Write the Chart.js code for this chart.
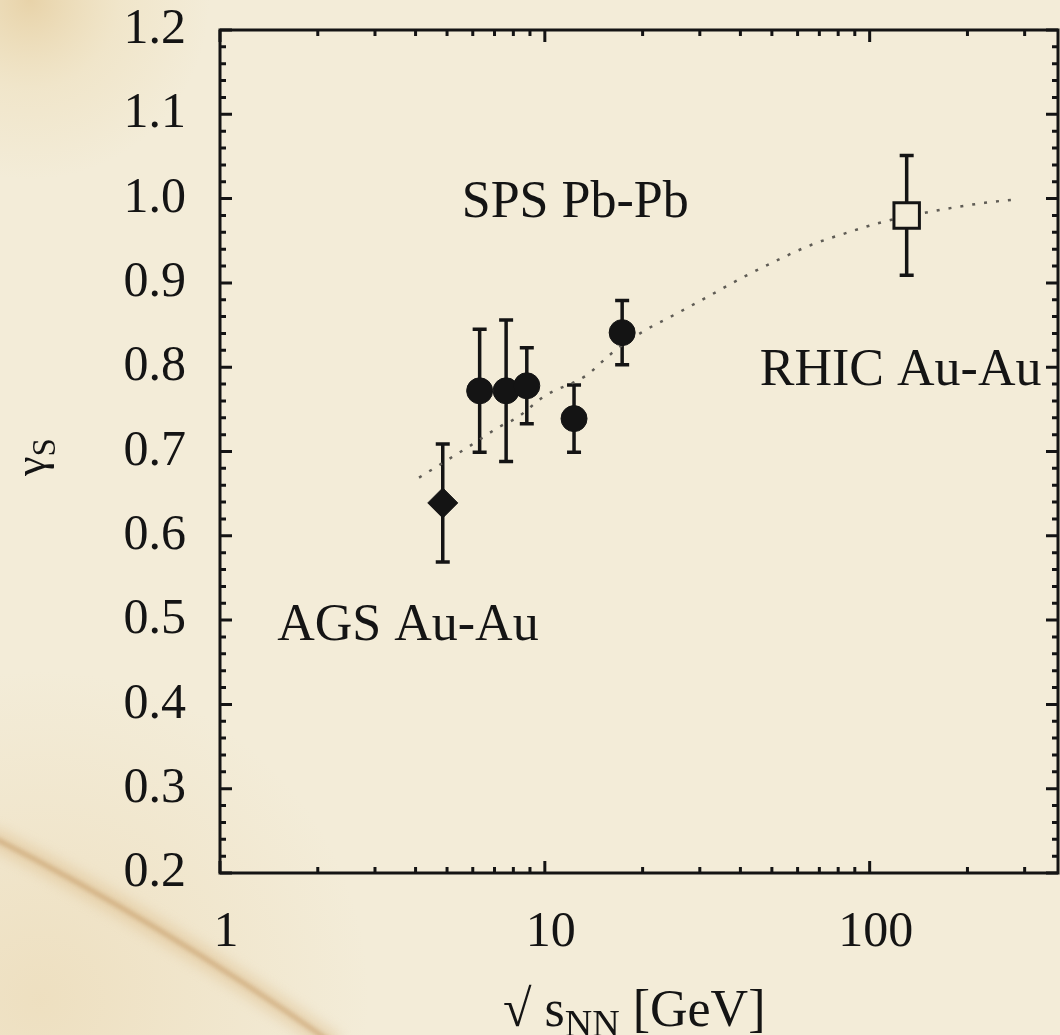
<!DOCTYPE html>
<html>
<head>
<meta charset="utf-8">
<script src="https://cdn.jsdelivr.net/npm/chart.js@4.4.1/dist/chart.umd.min.js"></script>
<style>
  html, body { margin: 0; padding: 0; background: #f3ecd8; }
  #wrap { width: 1060px; height: 1035px; }
</style>
</head>
<body>
<div id="wrap"><canvas id="gammaS" width="1060" height="1035"></canvas></div>
<script>
// strangeness saturation factor vs collision energy
const agsX = [4.85];
const agsY = [0.639];
const agsErr = [0.07];

const spsX = [6.3, 7.6, 8.8, 12.3, 17.3];
const spsY = [0.772, 0.772, 0.778, 0.739, 0.841];
const spsErr = [0.073, 0.084, 0.045, 0.04, 0.038];

const rhicX = [130];
const rhicY = [0.98];
const rhicErr = [0.071];

// dotted trend curve
const curveX = [4.1, 4.6, 5.9, 7.3, 8.2, 10, 13.4, 16, 20, 25, 31.5, 40, 52, 66, 86, 109, 167, 226, 280];
const curveY = [0.669, 0.681, 0.707, 0.73, 0.74, 0.766, 0.79, 0.816, 0.842, 0.862, 0.883, 0.905, 0.927, 0.945, 0.96, 0.972, 0.987, 0.995, 0.999];

const xTickValues = [1, 10, 100];
const yTickValues = [0.2, 0.3, 0.4, 0.5, 0.6, 0.7, 0.8, 0.9, 1.0, 1.1, 1.2];

const PAPER = '#f3ecd8';
const INK = '#141414';
const SERIF = '"Liberation Serif", "Times New Roman", serif';

const pts = (xs, ys) => xs.map((x, i) => ({ x: x, y: ys[i] }));

// paper background with stains
const paper = {
  id: 'paper',
  beforeDraw(chart) {
    const { ctx, width, height } = chart;
    ctx.save();
    ctx.fillStyle = PAPER;
    ctx.fillRect(0, 0, width, height);

    let g = ctx.createRadialGradient(30, 0, 0, 30, 0, 180);
    g.addColorStop(0, 'rgba(218,180,112,0.45)');
    g.addColorStop(0.5, 'rgba(228,200,140,0.18)');
    g.addColorStop(1, 'rgba(228,200,140,0)');
    ctx.fillStyle = g;
    ctx.fillRect(0, 0, width, height);

    g = ctx.createRadialGradient(40, 1000, 0, 40, 1000, 330);
    g.addColorStop(0, 'rgba(228,200,148,0.35)');
    g.addColorStop(1, 'rgba(228,200,148,0)');
    ctx.fillStyle = g;
    ctx.fillRect(0, 0, width, height);

    // crease
    ctx.beginPath();
    ctx.moveTo(-10, 836);
    ctx.quadraticCurveTo(160, 922, 335, 1045);
    ctx.filter = 'blur(6px)';
    ctx.strokeStyle = 'rgba(215,175,115,0.32)';
    ctx.lineWidth = 22;
    ctx.stroke();
    ctx.filter = 'blur(2px)';
    ctx.strokeStyle = 'rgba(180,128,70,0.4)';
    ctx.lineWidth = 5;
    ctx.stroke();
    ctx.restore();
  }
};

// vertical error bars with caps
const errorBars = {
  id: 'errorBars',
  beforeDatasetsDraw(chart) {
    const { ctx, scales: { x, y } } = chart;
    ctx.save();
    ctx.strokeStyle = INK;
    ctx.lineWidth = 3.5;
    chart.data.datasets.forEach(ds => {
      if (!ds.err) return;
      ds.data.forEach((p, i) => {
        const px = x.getPixelForValue(p.x);
        const top = y.getPixelForValue(p.y + ds.err[i]);
        const bot = y.getPixelForValue(p.y - ds.err[i]);
        ctx.beginPath();
        ctx.moveTo(px, top); ctx.lineTo(px, bot);
        ctx.moveTo(px - 7, top); ctx.lineTo(px + 7, top);
        ctx.moveTo(px - 7, bot); ctx.lineTo(px + 7, bot);
        ctx.stroke();
      });
    });
    ctx.restore();
  }
};

// box frame with inward ticks, labels and axis titles
const frame = {
  id: 'frame',
  afterDraw(chart) {
    const { ctx, chartArea: a, scales: { x, y } } = chart;
    ctx.save();
    ctx.strokeStyle = INK;
    ctx.lineWidth = 3;
    ctx.strokeRect(a.left, a.top, a.right - a.left, a.bottom - a.top);

    ctx.beginPath();
    for (let i = 10; i <= 60; i++) {
      const py = y.getPixelForValue(i / 50);
      const len = i % 5 === 0 ? 12 : 6;
      ctx.moveTo(a.left, py); ctx.lineTo(a.left + len, py);
      ctx.moveTo(a.right, py); ctx.lineTo(a.right - len, py);
    }
    for (let d = 1; d <= 100; d *= 10) {
      for (let m = 1; m <= 9; m++) {
        const v = m * d;
        if (v > x.max) break;
        const px = x.getPixelForValue(v);
        const len = m === 1 ? 12 : 6;
        ctx.moveTo(px, a.bottom); ctx.lineTo(px, a.bottom - len);
        ctx.moveTo(px, a.top); ctx.lineTo(px, a.top + len);
      }
    }
    ctx.stroke();

    // region labels
    ctx.fillStyle = INK;
    ctx.font = '52px ' + SERIF;
    ctx.textBaseline = 'alphabetic';
    ctx.textAlign = 'left';
    ctx.fillText('SPS Pb-Pb', x.getPixelForValue(5.55), y.getPixelForValue(0.978));
    ctx.fillText('AGS Au-Au', x.getPixelForValue(1.5), y.getPixelForValue(0.476));
    ctx.fillText('RHIC Au-Au', x.getPixelForValue(45.9), y.getPixelForValue(0.779));

    // x title: sqrt(s_NN) [GeV]
    let cx = 503;
    const by = 1026;
    ctx.font = '52px ' + SERIF;
    ctx.fillText('\u221A s', cx, by);
    cx += ctx.measureText('\u221A s').width;
    ctx.font = '38px ' + SERIF;
    ctx.fillText('NN', cx, by + 10);
    cx += ctx.measureText('NN').width;
    ctx.font = '52px ' + SERIF;
    ctx.fillText(' [GeV]', cx, by);

    // y title: gamma_S
    ctx.translate(45, 476);
    ctx.rotate(-Math.PI / 2);
    ctx.font = '44px ' + SERIF;
    ctx.fillText('\u03B3', 0, 0);
    const gw = ctx.measureText('\u03B3').width;
    ctx.font = '33px ' + SERIF;
    ctx.fillText('S', gw, 10);
    ctx.restore();
  }
};

new Chart(document.getElementById('gammaS'), {
  type: 'scatter',
  data: {
    datasets: [
      {
        label: 'trend',
        type: 'line',
        data: pts(curveX, curveY),
        borderColor: '#5f5c55',
        borderWidth: 2.5,
        borderDash: [3, 9],
        pointRadius: 0,
        cubicInterpolationMode: 'monotone',
        fill: false,
        order: 3
      },
      {
        label: 'AGS Au-Au',
        data: pts(agsX, agsY),
        err: agsErr,
        pointStyle: 'rectRot',
        pointRadius: 15,
        backgroundColor: INK,
        borderColor: INK,
        borderWidth: 1,
        order: 1
      },
      {
        label: 'SPS Pb-Pb',
        data: pts(spsX, spsY),
        err: spsErr,
        pointStyle: 'circle',
        pointRadius: 13,
        backgroundColor: INK,
        borderColor: INK,
        borderWidth: 1,
        order: 1
      },
      {
        label: 'RHIC Au-Au',
        data: pts(rhicX, rhicY),
        err: rhicErr,
        pointStyle: 'rect',
        pointRadius: 18,
        backgroundColor: PAPER,
        borderColor: INK,
        borderWidth: 3,
        order: 1
      }
    ]
  },
  options: {
    responsive: false,
    animation: false,
    events: [],
    layout: { autoPadding: false, padding: { top: 30, right: 2, left: 0, bottom: 0 } },
    plugins: {
      legend: { display: false },
      tooltip: { enabled: false }
    },
    scales: {
      x: {
        type: 'logarithmic',
        min: 1,
        max: 380,
        grid: { display: false, drawTicks: false },
        border: { display: false },
        afterBuildTicks: s => { s.ticks = xTickValues.map(v => ({ value: v })); },
        afterFit: s => { s.height = 162; s.paddingLeft = 0; s.paddingRight = 0; },
        ticks: {
          autoSkip: false,
          maxRotation: 0,
          padding: 30,
          labelOffset: 6,
          color: INK,
          font: { family: SERIF, size: 50 },
          callback: v => String(v)
        }
      },
      y: {
        type: 'linear',
        min: 0.2,
        max: 1.2,
        grid: { display: false, drawTicks: false },
        border: { display: false },
        afterBuildTicks: s => { s.ticks = yTickValues.map(v => ({ value: v })); },
        afterFit: s => { s.width = 220; s.paddingTop = 0; s.paddingBottom = 0; },
        ticks: {
          padding: 34,
          color: INK,
          font: { family: SERIF, size: 50 },
          callback: v => Number(v).toFixed(1)
        }
      }
    }
  },
  plugins: [paper, errorBars, frame]
});
</script>
</body>
</html>
